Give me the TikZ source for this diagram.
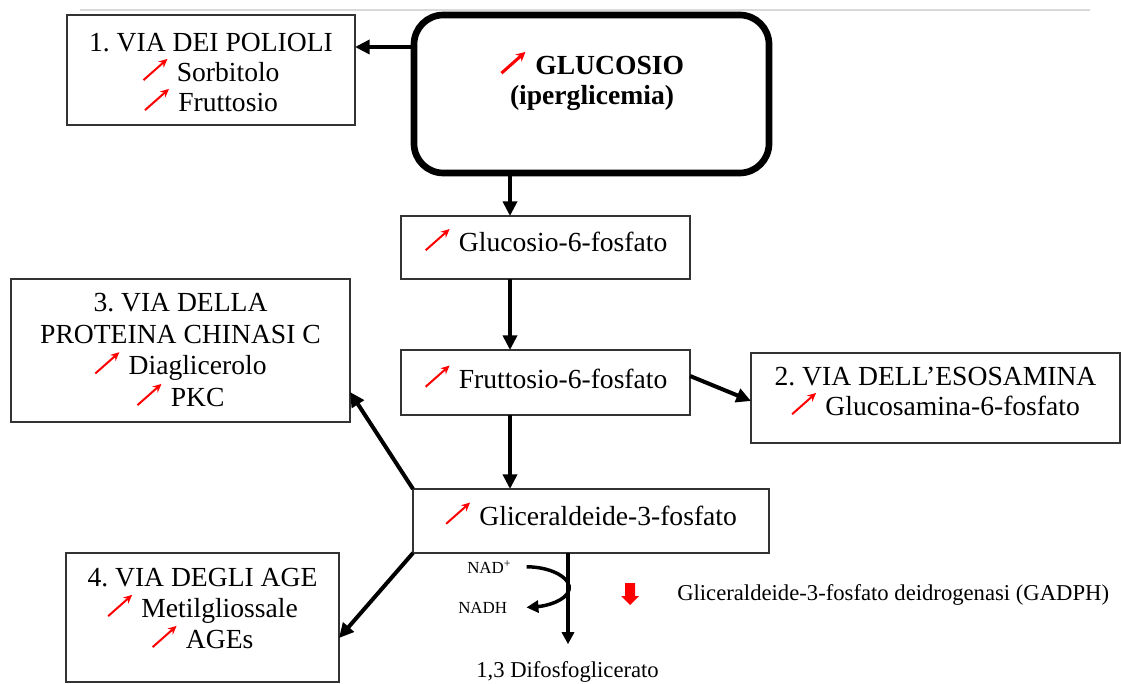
\documentclass[tikz,border=0pt]{standalone}
\usepackage{fontspec}
\setmainfont{Liberation Serif}
\usetikzlibrary{arrows.meta,calc}
\frenchspacing
\newcommand{\incr}{\tikz[baseline=0pt]\draw[red,line width=1.5pt,-{Stealth[length=6.5pt,width=6pt]}] (0,0.05em) -- (0.87em,0.82em);\hspace{0.3em}}
\newcommand{\incrb}{\tikz[baseline=0pt]\draw[red,line width=2.3pt,-{Stealth[length=7pt,width=7pt]}] (0,0.05em) -- (0.87em,0.82em);\hspace{0.3em}}
\begin{document}
\begin{tikzpicture}[x=0.75pt,y=-0.75pt,
  box/.style={draw=black!80,line width=1pt,rectangle,inner sep=0pt,outer sep=0pt},
  bigbox/.style={draw=black,line width=5pt,rectangle,rounded corners=22pt,inner sep=0pt,outer sep=0pt},
  txt/.style={align=center,inner sep=0pt,font=\fontsize{20.7pt}{22.5pt}\selectfont},
  smalltxt/.style={inner sep=0pt,font=\fontsize{12.7pt}{14pt}\selectfont},
  midtxt/.style={inner sep=0pt,font=\fontsize{17pt}{19pt}\selectfont},
  arr/.style={line width=3pt,-{Triangle[length=11pt,width=10.5pt]}},
  arrs/.style={line width=2.6pt,-{Triangle[length=9pt,width=9pt]}},
]
\useasboundingbox (0,0) rectangle (1121,684);
\draw[black!15,line width=0.9pt] (80,10) -- (1090,10);

% boxes
\node[box,minimum width=216pt,minimum height=82.5pt] (box1) at (211,70) {};
\node[bigbox,minimum width=266.25pt,minimum height=118.5pt] (glu) at (591.5,94) {};
\node[box,minimum width=216.75pt,minimum height=47.25pt] (g6p) at (545.5,247.5) {};
\node[box,minimum width=216.75pt,minimum height=48.75pt] (f6p) at (545.5,382.5) {};
\node[box,minimum width=276.75pt,minimum height=67.5pt] (box2) at (935.5,398) {};
\node[box,minimum width=254.25pt,minimum height=107.25pt] (box3) at (180.5,350.5) {};
\node[box,minimum width=267pt,minimum height=48pt] (gli) at (591,521) {};
\node[box,minimum width=204.75pt,minimum height=96.75pt] (box4) at (202.5,617.5) {};

% texts
\node[txt] (t1) at (211,72.5) {1. VIA DEI POLIOLI\\\incr Sorbitolo\\\incr Fruttosio};
\node[txt,font=\fontsize{20.7pt}{22.5pt}\selectfont\bfseries] (tglu) at (592,80.5) {\incrb GLUCOSIO\\(iperglicemia)};
\node[txt] (tg6p) at (546,240) {\incr Glucosio-6-fosfato};
\node[txt] (tf6p) at (546,376.5) {\incr Fruttosio-6-fosfato};
\node[txt] (t2) at (935.5,391.5) {2. VIA DELL’ESOSAMINA\\\incr Glucosamina-6-fosfato};
\node[txt,font=\fontsize{20.7pt}{23.75pt}\selectfont] (t3) at (180.5,350) {3. VIA DELLA\\PROTEINA CHINASI C\\\incr Diaglicerolo\\\incr PKC};
\node[txt] (tgli) at (591,513.5) {\incr Gliceraldeide-3-fosfato};
\node[txt,font=\fontsize{20.7pt}{23.25pt}\selectfont] (t4) at (202.5,608.5) {4. VIA DEGLI AGE\\\incr Metilgliossale\\\incr AGEs};

\node[smalltxt,anchor=base west] (nad) at (467,573) {NAD\textsuperscript{+}};
\node[smalltxt,anchor=base west] (nadh) at (458,613) {NADH};
\node[midtxt,anchor=base west] (dif) at (476,677) {1,3 Difosfoglicerato};
\node[midtxt,anchor=base west] (gadph) at (677,600) {Gliceraldeide-3-fosfato deidrogenasi (GADPH)};

% red block arrow
\fill[red] (625,583) -- (635,583) -- (635,596) -- (639,596) -- (630,605) -- (621,596) -- (625,596) -- cycle;

% connectors
\coordinate (cx) at (510,0);
\coordinate (dx) at (568,0);
\draw[arr] ([yshift=-24pt]glu.north west) -- ([yshift=-24pt]glu.north west -| box1.east);
\draw[arr] (glu.south -| cx) -- (g6p.north -| cx);
\draw[arr] (g6p.south -| cx) -- (f6p.north -| cx);
\draw[arr] (f6p.south -| cx) -- (gli.north -| cx);
\draw[arr] ([yshift=4.9pt]f6p.east) -- ([yshift=-2.25pt]box2.west);
\draw[arr] (gli.north west) -- ([yshift=-31.1pt]box3.east);
\draw[arr] (gli.south west) -- ([yshift=-15.4pt]box4.east);
\draw[arrs] (gli.south -| dx) -- ([yshift=12.4pt]dif.north -| dx);
\draw[arrs] ($(nad.east)+(15,0)$) .. controls (553,567) and (572,579) .. (569,590)
   .. controls (566,601) and (546,606) .. ($(nadh.east)+(19,0)$);
\end{tikzpicture}
\end{document}
